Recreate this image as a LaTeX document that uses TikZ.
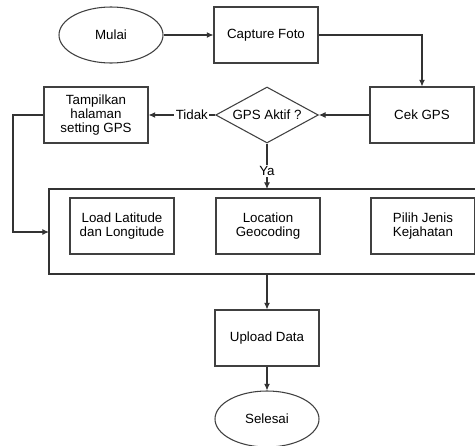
\documentclass[tikz,border=0pt]{standalone}
\usepackage{fontspec}
\setmainfont{Liberation Sans}
\usetikzlibrary{shapes.geometric,arrows.meta}

\tikzset{
  flowline/.style={draw=black!80, line width=0.8pt, -{Latex[length=5pt,width=4.5pt]}},
  plainline/.style={draw=black!80, line width=0.8pt},
  procbox/.style={draw=black!75, line width=0.8pt, rectangle, minimum width=78pt, minimum height=42pt, align=center, inner sep=1pt, font=\fontsize{10}{10.5}\selectfont},
  termnode/.style={draw=black!75, line width=0.8pt, ellipse, minimum width=78pt, minimum height=42pt, font=\fontsize{10}{10.5}\selectfont},
  decnode/.style={draw=black!75, line width=0.8pt, diamond, aspect=1.84, minimum width=77pt, minimum height=42pt, inner sep=0pt, font=\fontsize{10}{10.5}\selectfont},
  lbl/.style={fill=white, inner sep=1pt, font=\fontsize{10}{10.5}\selectfont}
}

\begin{document}
\begin{tikzpicture}[x=0.75pt,y=-0.75pt]
        \clip (0,0) rectangle (475,446);
        % top row
        \node[termnode] (mulai) at (111,35) {Mulai};
        \node[procbox] (capture) at (266,35) {Capture Foto};
        \node[procbox] (cekgps) at (422,115) {Cek GPS};
        \node[decnode] (gpsaktif) at (267,115) {GPS Aktif ?};
        \node[procbox] (tampil) at (96,115) {Tampilkan\\halaman\\setting GPS};
        % group box
        \draw[plainline] (49,189) rectangle (520,274);
        \coordinate (grouptop) at (267,189);
        \coordinate (groupbot) at (267,274);
        \coordinate (groupleft) at (49,232);
        \node[procbox] (loadlat) at (122,226) {Load Latitude\\dan Longitude};
        \node[procbox] (geocode) at (268,226) {Location\\Geocoding};
        \node[procbox] (jenis) at (423,226) {Pilih Jenis\\Kejahatan};
        % bottom
        \node[procbox] (upload) at (267,338) {Upload Data};
        \node[termnode] (selesai) at (267,419) {Selesai};
        % connectors
        \draw[flowline] (mulai) -- (capture);
        \draw[flowline] (capture.east) -| (cekgps.north);
        \draw[flowline] (cekgps) -- (gpsaktif);
        \draw[flowline] (gpsaktif.west) -- node[lbl, pos=0.35] {Tidak} (tampil.east);
        \draw[flowline] (gpsaktif.south) -- node[lbl, pos=0.6] {Ya} (grouptop);
        \draw[flowline] (tampil.west) -- (13,115) |- (groupleft);
        \draw[flowline] (groupbot) -- (upload.north);
        \draw[flowline] (upload) -- (selesai);
    \end{tikzpicture}
\end{document}
